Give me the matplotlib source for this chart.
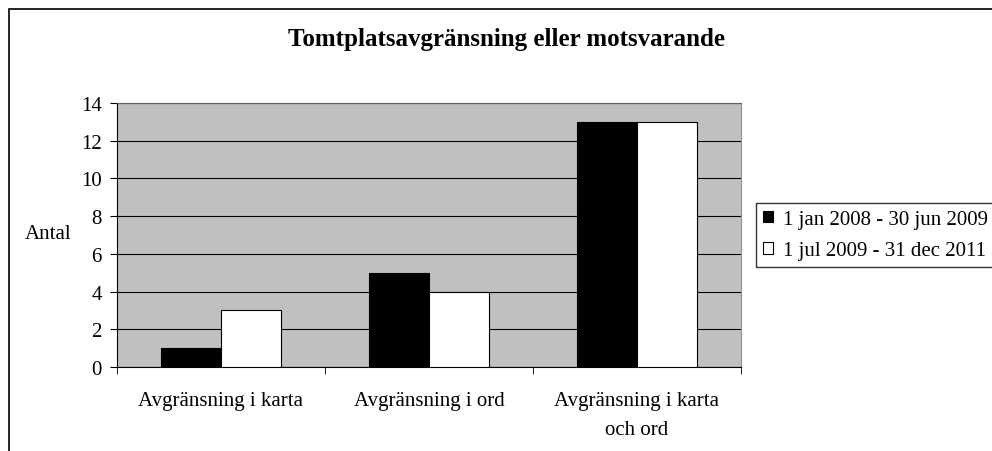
import matplotlib.pyplot as plt
import matplotlib.patches as patches
import numpy as np

categories = ['Avgränsning i karta', 'Avgränsning i ord', 'Avgränsning i karta\noch ord']
period1 = [1, 5, 13]
period2 = [3, 4, 13]
series_names = ['1 jan 2008 - 30 jun 2009', '1 jul 2009 - 31 dec 2011']
yticks = [0, 2, 4, 6, 8, 10, 12, 14]

plt.rcParams['font.family'] = ['Liberation Serif', 'DejaVu Serif']
plt.rcParams['font.size'] = 15

fig = plt.figure(figsize=(9.92, 4.52), dpi=100)
# outer chart border (runs off right/bottom like the original)
fig.patches.append(patches.Rectangle((9 / 992, -0.1), 1.2, 1 - 10 / 452 + 0.1,
                                     transform=fig.transFigure, fill=False,
                                     edgecolor='black', linewidth=1.2))

ax = fig.add_axes([117 / 992, 1 - 368 / 452, 624 / 992, 264 / 452])
ax.set_facecolor('#C0C0C0')

x = np.arange(len(categories))
w = 0.29
ax.bar(x - w / 2, period1, w, color='black', edgecolor='black', linewidth=0.8,
       label=series_names[0], zorder=3)
ax.bar(x + w / 2, period2, w, color='white', edgecolor='black', linewidth=0.8,
       label=series_names[1], zorder=3)

ax.set_xlim(-0.5, len(categories) - 0.5)
ax.set_ylim(0, 14)
ax.set_yticks(yticks)
ax.yaxis.grid(True, color='black', linewidth=0.8, zorder=0)
ax.set_axisbelow(True)

ax.set_xticks(x)
ax.set_xticklabels(categories, linespacing=1.75)
ax.tick_params(axis='x', length=0, pad=17)
ax.set_xticks(np.arange(len(categories) + 1) - 0.5, minor=True)
ax.tick_params(axis='x', which='minor', length=5, direction='out')
ax.tick_params(axis='y', length=5, direction='out', pad=6)

ax.spines['top'].set_color('#606060')
ax.spines['right'].set_color('#909090')
ax.spines['left'].set_color('black')
ax.spines['bottom'].set_color('black')

fig.text(48 / 992, 1 - 235 / 452, 'Antal', ha='center', va='center')

fig.text(507 / 992, 1 - 46 / 452, 'Tomtplatsavgränsning eller motsvarande',
         ha='center', va='baseline', fontsize=18, fontweight='bold')

leg = ax.legend(loc='center left', bbox_to_anchor=(756 / 992, 1 - 236 / 452),
                bbox_transform=fig.transFigure, frameon=True, fancybox=False,
                handlelength=0.48, handleheight=0.48, handletextpad=0.5,
                borderpad=0.33, labelspacing=0.6, borderaxespad=0)
leg.get_frame().set_edgecolor('black')
leg.get_frame().set_linewidth(1.0)

fig.savefig('out.png', dpi=100)
